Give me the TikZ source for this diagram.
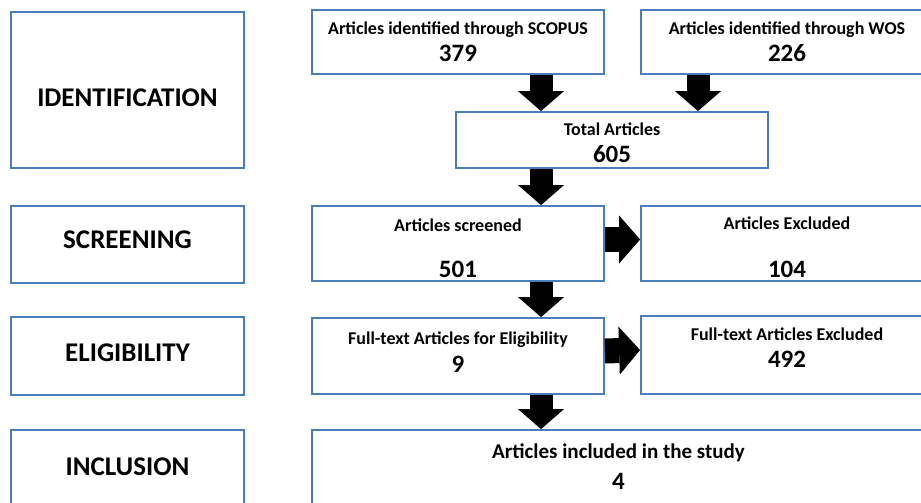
\documentclass[tikz,border=0pt]{standalone}
\usepackage{fontspec}
\setmainfont{Carlito}
\usetikzlibrary{arrows.meta}
\definecolor{boxblue}{RGB}{74,126,187}
\newcommand{\cnt}[1]{{\fontsize{25}{27}\selectfont #1}}

\begin{document}
\begin{tikzpicture}[x=1pt,y=-1pt]
 \tikzstyle{phase}=[draw=boxblue,line width=1.8pt,minimum width=233pt,font=\fontsize{27}{30}\selectfont\bfseries]
 \tikzstyle{box}=[draw=boxblue,line width=1.8pt,minimum width=292pt,align=center,font=\fontsize{18}{27}\selectfont\bfseries]
 \tikzstyle{blk}=[line width=23pt,-{Triangle[width=46pt,length=20pt,line width=0pt]}]
 \tikzstyle{blkh}=[line width=25pt,-{Triangle[width=48pt,length=21pt,line width=0pt]}]
 \useasboundingbox (0,0) rectangle (921,503);
 \clip (0,0) rectangle (921,503);
 % phases
 \node[phase,minimum height=156pt,text height=33pt] at (127.5,90) (ident) {IDENTIFICATION};
 \node[phase,minimum height=77pt,text depth=10pt] at (127.5,244.5) (scrn) {SCREENING};
 \node[phase,minimum height=78pt,text depth=6pt] at (127.5,356) (elig) {ELIGIBILITY};
 \node[phase,minimum height=90pt,text depth=16pt] at (127.5,475) (incl) {INCLUSION};
 % records
 \node[box,minimum height=64pt] at (458,42) (scop)
  {Articles identified through SCOPUS\\ \cnt{379}};
 \node[box,minimum height=64pt] at (787,42) (wos)
  {Articles identified through WOS\\ \cnt{226}};
 \node[box,minimum width=312pt,minimum height=56pt] at (612,140) (total)
  {\rule{0pt}{18pt}Total Articles\\ \cnt{605}};
 \node[box,minimum height=75pt] at (458,243.5) (scr)
  {\rule{0pt}{22pt}Articles screened\\[19pt] \cnt{501}};
 \node[box,minimum height=75pt] at (787,243.5) (exc)
  {\rule{0pt}{20pt}Articles Excluded\\[21pt] \cnt{104}};
 \node[box,minimum height=76pt,text depth=7pt] at (458,356) (ft)
  {Full-text Articles for Eligibility\\[1pt] \cnt{9}};
 \node[box,minimum height=78pt,text depth=15pt] at (787,355) (ftx)
  {Full-text Articles Excluded\\ \cnt{492}};
 \node[box,minimum width=613pt,minimum height=90pt,text depth=17pt,font=\fontsize{21}{28}\selectfont\bfseries] at (618.5,475) (inc)
  {Articles included in the study\\[3pt] \cnt{4}};
 % arrows
 \coordinate (mc) at (541,0);
 \coordinate (wc) at (698,0);
 \draw[blk] (scop.south -| mc) -- (total.north -| mc);
 \draw[blk] (wos.south -| wc) -- (total.north -| wc);
 \draw[blk] (total.south -| mc) -- (scr.north -| mc);
 \draw[blk] (scr.south -| mc) -- (ft.north -| mc);
 \draw[blk] (ft.south -| mc) -- (inc.north -| mc);
 \draw[blkh] ([yshift=4pt]scr.east) -- ([yshift=4pt]exc.west);
 \draw[blkh] ([yshift=5pt]ft.east) -- ([yshift=5pt]ftx.west);
\end{tikzpicture}
\end{document}
